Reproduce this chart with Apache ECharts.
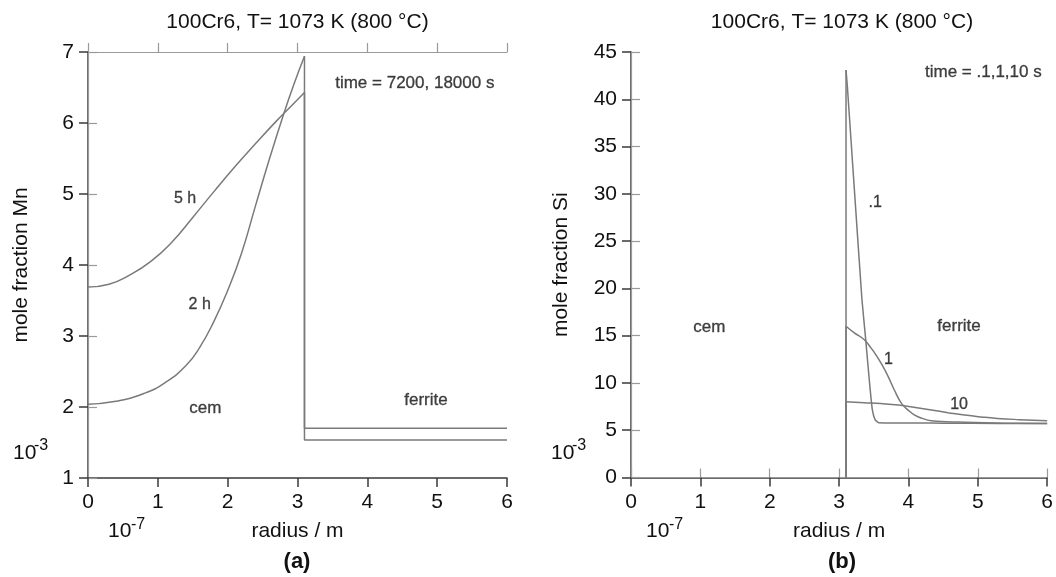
<!DOCTYPE html>
<html><head><meta charset="utf-8">
<script src="https://cdn.jsdelivr.net/npm/echarts@6/dist/echarts.min.js"></script>
<style>html,body{margin:0;padding:0;background:#fff}#c{width:1056px;height:577px}</style>
</head><body><div id="c"></div>
<script>
// ---------- data ----------
const panelTitles = ['100Cr6, T= 1073 K (800 °C)', '100Cr6, T= 1073 K (800 °C)'];
const panelTags = ['(a)', '(b)'];
const xAxisName = 'radius / m';
const yAxisNames = ['mole fraction Mn', 'mole fraction Si'];
const xScale = [0, 6, 1];          // min, max, interval (x 10^-7 m)
const yScaleMn = [1, 7, 1];        // x 10^-3
const yScaleSi = [0, 45, 5];       // x 10^-3

// (a) Mn profiles, t = 2 h (7200 s) and 5 h (18000 s)
const mn2hCementite = [[0,2.04],[0.4,2.08],[0.8,2.19],[1.1,2.34],[1.4,2.58],[1.6,2.84],[1.8,3.20],[2.0,3.64],[2.2,4.17],[2.4,4.84],[2.6,5.50],[2.8,6.12],[2.95,6.55],[3.1,6.94]];
const mn2hFerrite = [[3.1,6.94],[3.1,1.70],[6,1.70]];
const mn5hCementite = [[0,3.69],[0.3,3.73],[0.6,3.86],[0.9,4.05],[1.2,4.32],[1.5,4.67],[1.8,5.03],[2.1,5.38],[2.4,5.71],[2.7,6.03],[2.9,6.23],[3.1,6.43]];
const mn5hFerrite = [[3.1,6.43],[3.1,1.535],[6,1.535]];

// (b) Si profiles, t = 0.1, 1, 10 s (first point: foot of the interface jump)
const si01 = [[3.1,0],[3.1,43.1],[3.12,41.3],[3.22,30.5],[3.33,18.8],[3.38,14.9],[3.44,9.96],[3.48,7.14],[3.52,6.1],[3.57,5.8],[4.5,5.75],[5.3,5.72],[6,5.7]];
const si1 = [[3.1,0],[3.1,16.0],[3.22,15.3],[3.36,14.6],[3.45,13.8],[3.52,13.1],[3.62,11.9],[3.71,10.65],[3.80,9.2],[3.90,7.84],[4.0,7.1],[4.09,6.6],[4.2,6.25],[4.33,6.0],[4.55,5.9],[4.81,5.85],[5.4,5.75],[6,5.7]];
const si10 = [[3.1,0],[3.1,8.01],[3.36,7.91],[3.6,7.82],[3.86,7.66],[4.1,7.4],[4.33,7.14],[4.57,6.86],[4.81,6.6],[5.05,6.4],[5.28,6.25],[5.6,6.12],[6,6.0]];

// annotations [x, y, text] in data units
const mnCurveNotes = [[1.39,4.93,'5 h'],[1.60,3.44,'2 h']];
const mnRegionNotes = [[1.68,1.98,'cem'],[4.84,2.09,'ferrite'],[4.68,6.56,'time = 7200, 18000 s']];
const siCurveNotes = [[3.52,29.1,'.1'],[3.71,12.5,'1'],[4.73,7.66,'10']];
const siRegionNotes = [[1.13,15.9,'cem'],[4.73,16.0,'ferrite'],[5.08,42.8,'time = .1,1,10 s']];

// ---------- chart ----------
const FONT = "'Liberation Sans', Arial, sans-serif";
const DARK = '#3a3a3a', LIGHT = '#9a9a9a', CURVE = '#7a7a7a', INK = '#111';

function bottomAxis(grid, name) {
  return {type:'value', gridIndex:grid, position:'bottom', min:xScale[0], max:xScale[1], interval:xScale[2],
    axisLine:{lineStyle:{color:DARK, width:1.5}}, axisTick:{length:9, lineStyle:{color:DARK, width:1.5}},
    axisLabel:{fontSize:21, color:INK, margin:14, fontFamily:FONT}, splitLine:{show:false},
    name:name, nameLocation:'middle', nameGap:43, nameTextStyle:{fontSize:21, color:INK, fontFamily:FONT}};
}
function topAxis(grid) {
  return {type:'value', gridIndex:grid, position:'top', min:xScale[0], max:xScale[1], interval:xScale[2],
    axisLine:{lineStyle:{color:LIGHT, width:1.2}}, axisTick:{length:9, lineStyle:{color:LIGHT, width:1.2}},
    axisLabel:{show:false}, splitLine:{show:false}};
}
function leftAxis(grid, sc, name, gap) {
  return {type:'value', gridIndex:grid, position:'left', min:sc[0], max:sc[1], interval:sc[2],
    axisLine:{show:true, lineStyle:{color:DARK, width:1.5}}, axisTick:{show:true, length:9, lineStyle:{color:DARK, width:1.5}},
    axisLabel:{fontSize:21, color:INK, margin:14, fontFamily:FONT}, splitLine:{show:false},
    name:name, nameLocation:'middle', nameGap:gap, nameTextStyle:{fontSize:21, color:INK, fontFamily:FONT}};
}
function rightAxis(grid, sc) {
  return {type:'value', gridIndex:grid, position:'right', min:sc[0], max:sc[1], interval:sc[2],
    axisLine:{show:true, lineStyle:{color:LIGHT, width:1.2}}, axisTick:{show:true, length:9, lineStyle:{color:LIGHT, width:1.2}},
    axisLabel:{show:false}, splitLine:{show:false}};
}
function line(data, xi, yi, smooth) {
  return {type:'line', xAxisIndex:xi, yAxisIndex:yi, data:data, symbol:'none', silent:true,
    smooth:smooth || false, lineStyle:{color:CURVE, width:1.5}, z:3};
}
// a profile with a vertical jump at the interface: straight jump, smoothed tail
function profile(data, xi, yi, smooth) {
  return [line(data.slice(0, 2), xi, yi, 0), line(data.slice(1), xi, yi, smooth)];
}
function notes(list, xi, yi, size) {
  return {type:'scatter', xAxisIndex:xi, yAxisIndex:yi, symbolSize:1, silent:true,
    itemStyle:{color:'rgba(0,0,0,0)'},
    data:list.map(n => ({value:[n[0], n[1]], name:n[2]})),
    label:{show:true, position:'inside', formatter:'{b}', color:INK, fontFamily:FONT,
      fontSize:size, textBorderColor:'#333', textBorderWidth:0.35}, z:5};
}

const chart = echarts.init(document.getElementById('c'), null, {renderer:'canvas'});
function txt(x, y, s, size, extra) {
  return {type:'text', x:x, y:y, silent:true,
    style:Object.assign({text:s, fontSize:size, fontFamily:FONT, fill:INK, textAlign:'center', textVerticalAlign:'middle'}, extra||{})};
}
chart.setOption({
  animation:false,
  backgroundColor:'#fff',
  grid:[{left:88, top:52, width:419, height:426}, {left:631, top:52, width:422, height:425.5}],
  xAxis:[bottomAxis(0, xAxisName), topAxis(0), bottomAxis(1, xAxisName), topAxis(1)],
  yAxis:[leftAxis(0, yScaleMn, yAxisNames[0], 56), rightAxis(0, yScaleMn), leftAxis(1, yScaleSi, yAxisNames[1], 59), rightAxis(1, yScaleSi)],
  series:[
    line(mn2hCementite,0,0,0.5), line(mn2hFerrite,0,0,0), line(mn5hCementite,0,0,0.5), line(mn5hFerrite,0,0,0),
    ...profile(si01,2,2,0.15), ...profile(si1,2,2,0.45), ...profile(si10,2,2,0.5),
    notes(mnCurveNotes,0,0,16), notes(mnRegionNotes,0,0,17),
    notes(siCurveNotes,2,2,16), notes(siRegionNotes,2,2,17)
  ],
  graphic:[
    txt(297.5, 22, panelTitles[0], 21),
    txt(842, 22, panelTitles[1], 21),
    txt(297, 562, panelTags[0], 22, {fontWeight:'bold'}),
    txt(842, 562, panelTags[1], 22, {fontWeight:'bold'}),
    txt(13, 453, '10', 21, {textAlign:'left'}), txt(34, 446, '-3', 16, {textAlign:'left'}),
    txt(551, 453, '10', 21, {textAlign:'left'}), txt(572, 446, '-3', 16, {textAlign:'left'}),
    txt(108, 531, '10', 21, {textAlign:'left'}), txt(131, 525, '-7', 16, {textAlign:'left'}),
    txt(646, 531, '10', 21, {textAlign:'left'}), txt(669, 525, '-7', 16, {textAlign:'left'})
  ]
});
</script></body></html>
